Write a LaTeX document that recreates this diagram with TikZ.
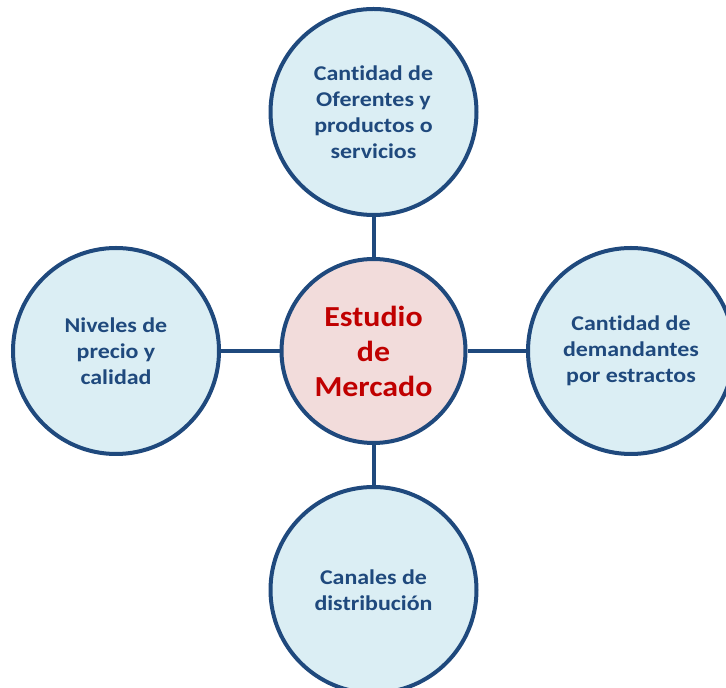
\documentclass[tikz,border=0pt]{standalone}
\usepackage{fontspec}
\setmainfont{Carlito}
\newfontfamily\boxfont[FakeStretch=1.14,Ligatures=NoCommon]{Carlito}
\newfontfamily\hubfont[FakeStretch=1.1,Ligatures=NoCommon]{Carlito}
\usetikzlibrary{backgrounds}
\definecolor{edgeblue}{HTML}{1F497D}
\definecolor{fillblue}{HTML}{DBEEF4}
\definecolor{fillpink}{HTML}{F2DCDB}
\definecolor{textred}{HTML}{C00000}
\tikzset{
  outer/.style={circle, draw=edgeblue, line width=4pt, fill=fillblue, inner sep=0pt,
    minimum size=206pt, align=center, text=edgeblue,
    font=\boxfont\fontsize{21pt}{26pt}\selectfont\bfseries},
  hub/.style={circle, draw=edgeblue, line width=4pt, fill=fillpink, inner sep=0pt,
    minimum size=184pt, align=center, text=textred,
    font=\hubfont\fontsize{29pt}{35pt}\selectfont\bfseries},
  link/.style={draw=edgeblue, line width=4pt}
}
\begin{document}
\begin{tikzpicture}[x=1pt,y=1pt]
\useasboundingbox (0,0) rectangle (726,688);
\clip (0,0) rectangle (726,688);
\node[hub] (c) at (373.5,337) {Estudio\\de\\Mercado};
\node[outer] (t) at (373.5,576) {Cantidad de\\Oferentes y\\productos o\\servicios};
\node[outer] (l) at (116,337) {Niveles de\\precio y\\calidad};
\node[outer] (r) at (631,337) {Cantidad de\\demandantes\\por estractos};
\node[outer] (b) at (373.5,98) {Canales de\\distribución};
\begin{scope}[on background layer]
\fill[white] (0,0) rectangle (726,688);
\draw[link] (c) -- (t);
\draw[link] (c) -- (l);
\draw[link] (c) -- (r);
\draw[link] (c) -- (b);
\end{scope}
\end{tikzpicture}
\end{document}
